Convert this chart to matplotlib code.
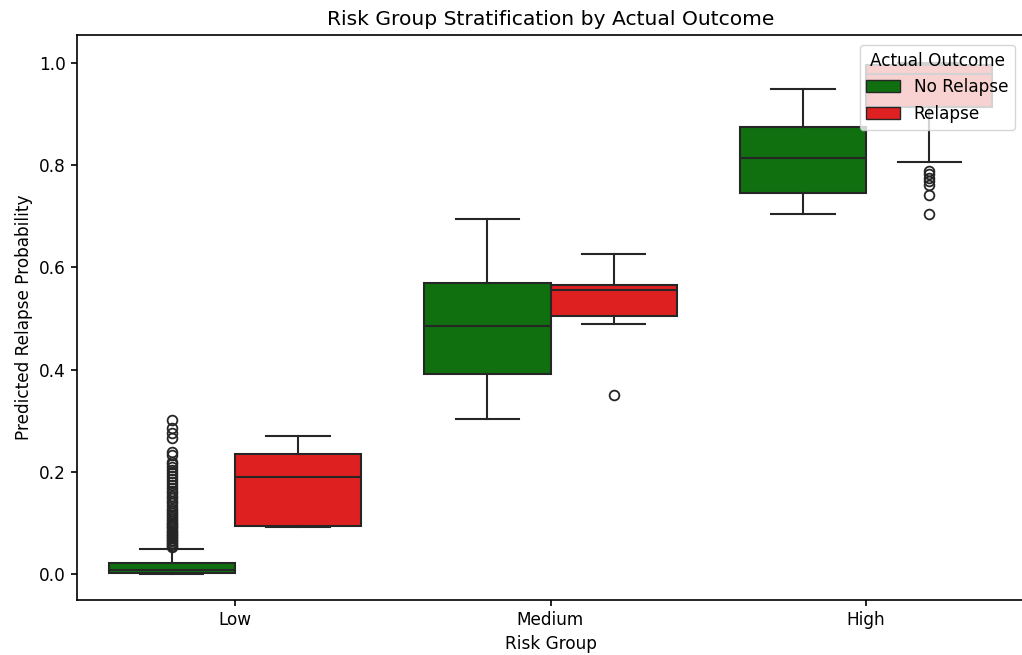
import numpy as np
import matplotlib.pyplot as plt
from matplotlib.patches import Patch

# Данные (статистики ящиков)
groups = ['Low', 'Medium', 'High']
outcomes = ['No Relapse', 'Relapse']
colors = ['#107010', '#df2020']

# [группа][исход]
whislo = [[0.000, 0.091], [0.303, 0.489], [0.704, 0.807]]
q1 = [[0.002, 0.094], [0.391, 0.504], [0.746, 0.915]]
med = [[0.008, 0.190], [0.486, 0.555], [0.815, 0.979]]
q3 = [[0.021, 0.234], [0.570, 0.565], [0.875, 0.996]]
whishi = [[0.049, 0.270], [0.695, 0.627], [0.950, 1.000]]

low_green_fliers = [0.052, 0.055, 0.058, 0.061, 0.064, 0.067, 0.070, 0.073, 0.076,
                    0.079, 0.082, 0.085, 0.088, 0.091, 0.094, 0.097, 0.100, 0.104,
                    0.108, 0.112, 0.116, 0.120, 0.124, 0.128, 0.133, 0.138, 0.143,
                    0.148, 0.153, 0.158, 0.163, 0.168, 0.174, 0.180, 0.186, 0.192,
                    0.198, 0.204, 0.210, 0.216, 0.220, 0.233, 0.238, 0.266, 0.275,
                    0.285, 0.301]
fliers = [[low_green_fliers, []],
          [[], [0.350]],
          [[], [0.705, 0.741, 0.762, 0.770, 0.776, 0.782, 0.788]]]

edge = '#262626'
fs = 12.2

fig = plt.figure(figsize=(10.22, 6.55), dpi=100)
ax = fig.add_axes([77 / 1022, 55 / 655, 947 / 1022, 565.5 / 655])

offsets = [-0.2, 0.2]
for j, outcome in enumerate(outcomes):
    stats = []
    for i in range(len(groups)):
        stats.append({
            'whislo': whislo[i][j], 'q1': q1[i][j], 'med': med[i][j],
            'q3': q3[i][j], 'whishi': whishi[i][j], 'fliers': fliers[i][j],
        })
    pos = np.arange(len(groups)) + offsets[j]
    ax.bxp(stats, positions=pos, widths=0.4, capwidths=0.2, patch_artist=True,
           manage_ticks=False,
           boxprops=dict(facecolor=colors[j], edgecolor=edge, linewidth=1.5),
           medianprops=dict(color=edge, linewidth=1.5),
           whiskerprops=dict(color=edge, linewidth=1.5),
           capprops=dict(color=edge, linewidth=1.5),
           flierprops=dict(marker='o', markersize=7, markerfacecolor='none',
                           markeredgecolor=edge, markeredgewidth=1.3))

ax.set_xticks(np.arange(len(groups)))
ax.set_xticklabels(groups)
ax.set_xlim(-0.5, 2.5)
ax.set_ylim(-0.051, 1.056)
ax.set_yticks([0.0, 0.2, 0.4, 0.6, 0.8, 1.0])
ax.tick_params(labelsize=fs, width=1.2, length=4.5)
for sp in ax.spines.values():
    sp.set_linewidth(1.2)

ax.set_xlabel('Risk Group', fontsize=fs)
ax.set_ylabel('Predicted Relapse Probability', fontsize=fs)
ax.set_title('Risk Group Stratification by Actual Outcome', fontsize=14.6, pad=7)

handles = [Patch(facecolor=c, edgecolor=edge, label=o) for c, o in zip(colors, outcomes)]
ax.legend(handles=handles, title='Actual Outcome', loc='upper right',
          bbox_to_anchor=(0.9905, 0.9814), borderaxespad=0, fontsize=fs,
          title_fontsize=fs)

fig.savefig('out.png', dpi=100)
